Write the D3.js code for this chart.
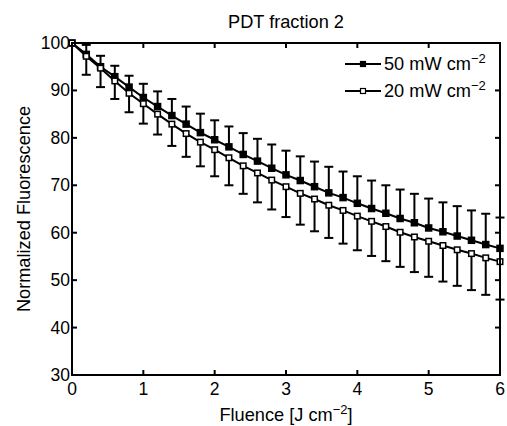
<!DOCTYPE html>
<html lang="en">
<head>
<meta charset="utf-8">
<title>PDT fraction 2</title>
<style>
  body { margin: 0; background: #fff; }
  svg text { font-family: "Liberation Sans", Arial, sans-serif; fill: #000; }
</style>
</head>
<body>
<svg id="chart" width="507" height="426"></svg>
<script src="https://d3js.org/d3.v7.min.js"></script>
<script>
// fluence points (J cm^-2)
const fluence = [0, 0.2, 0.4, 0.6, 0.8, 1.0, 1.2, 1.4, 1.6, 1.8, 2.0, 2.2, 2.4, 2.6, 2.8, 3.0,
                 3.2, 3.4, 3.6, 3.8, 4.0, 4.2, 4.4, 4.6, 4.8, 5.0, 5.2, 5.4, 5.6, 5.8, 6.0];
// 50 mW cm^-2 (filled squares)
const fl50 = [100, 97.6, 95.0, 92.9, 90.7, 88.5, 86.6, 84.7, 82.9, 81.1, 79.6, 78.1, 76.5, 75.1, 73.6, 72.2,
              71.0, 69.7, 68.4, 67.4, 66.2, 65.1, 64.1, 63.0, 62.1, 61.0, 60.2, 59.3, 58.4, 57.5, 56.7];
const err50 = [0, 2.0, 2.3, 2.3, 2.4, 2.9, 3.2, 3.5, 3.7, 4.0, 4.1, 4.3, 4.5, 4.7, 5.0, 5.1,
               5.1, 5.3, 5.5, 5.5, 5.7, 5.9, 5.9, 6.1, 6.1, 6.2, 6.2, 6.3, 6.3, 6.5, 6.5];
// 20 mW cm^-2 (open squares)
const fl20 = [100, 97.2, 94.7, 92.0, 89.4, 87.2, 85.0, 82.9, 80.9, 79.1, 77.5, 75.8, 74.1, 72.6, 71.1, 69.7,
              68.3, 67.1, 65.8, 64.7, 63.5, 62.4, 61.3, 60.1, 59.1, 58.2, 57.3, 56.4, 55.6, 54.7, 53.9];
const err20 = [0, 3.9, 4.0, 3.8, 4.0, 4.2, 4.3, 4.6, 4.9, 5.1, 5.6, 5.8, 5.9, 6.2, 6.2, 6.4,
               6.6, 6.8, 6.9, 7.0, 7.2, 7.3, 7.3, 7.3, 7.4, 7.5, 7.6, 7.6, 7.7, 7.8, 8.0];
const xTicks = [0, 1, 2, 3, 4, 5, 6];
const yTicks = [30, 40, 50, 60, 70, 80, 90, 100];

const svg = d3.select("#chart");
const plotL = 72, plotR = 500, plotT = 43, plotB = 375;
const fs = 18.2, tickFs = 17.5;

const x = d3.scaleLinear().domain([0, 6]).range([plotL, plotR]);
const y = d3.scaleLinear().domain([30, 100]).range([plotB, plotT]);

// error bars: upper for 50 mW, lower for 20 mW
const capW = 4.5;
function errBars(vals, errs, dir) {
  const g = svg.append("g").attr("stroke", "#000").attr("stroke-width", 2);
  fluence.forEach((f, i) => {
    if (errs[i] <= 0) return;
    const end = vals[i] + dir * errs[i];
    g.append("line").attr("x1", x(f)).attr("x2", x(f)).attr("y1", y(vals[i])).attr("y2", y(end));
    g.append("line").attr("x1", x(f) - capW).attr("x2", x(f) + capW).attr("y1", y(end)).attr("y2", y(end));
  });
}
errBars(fl50, err50, 1);
errBars(fl20, err20, -1);

const line = d3.line().x(d => x(d[0])).y(d => y(d[1]));
function series(vals, fill, ms) {
  const pts = fluence.map((f, i) => [f, vals[i]]);
  svg.append("path").datum(pts).attr("d", line)
    .attr("fill", "none").attr("stroke", "#000").attr("stroke-width", 2);
  svg.append("g").selectAll("rect").data(pts).join("rect")
    .attr("x", d => x(d[0]) - ms / 2).attr("y", d => y(d[1]) - ms / 2)
    .attr("width", ms).attr("height", ms)
    .attr("fill", fill).attr("stroke", "#000").attr("stroke-width", 1.5);
}
series(fl50, "#000", 6);
series(fl20, "#fff", 5.5);

// axes box with inward ticks
const ax = svg.append("g").attr("stroke", "#000").attr("stroke-width", 2);
ax.append("rect").attr("x", plotL).attr("y", plotT).attr("width", plotR - plotL).attr("height", plotB - plotT)
  .attr("fill", "none");
const tl = 5;
xTicks.forEach(t => {
  ax.append("line").attr("x1", x(t)).attr("x2", x(t)).attr("y1", plotB).attr("y2", plotB - tl);
  ax.append("line").attr("x1", x(t)).attr("x2", x(t)).attr("y1", plotT).attr("y2", plotT + tl);
});
yTicks.forEach(t => {
  ax.append("line").attr("x1", plotL).attr("x2", plotL + tl).attr("y1", y(t)).attr("y2", y(t));
  ax.append("line").attr("x1", plotR).attr("x2", plotR - tl).attr("y1", y(t)).attr("y2", y(t));
});

// tick labels
svg.append("g").selectAll("text").data(xTicks).join("text")
  .attr("x", d => x(d)).attr("y", plotB + 20).attr("text-anchor", "middle")
  .attr("font-size", tickFs).text(d => d);
svg.append("g").selectAll("text").data(yTicks).join("text")
  .attr("x", plotL - 2).attr("y", d => y(d) + 6).attr("text-anchor", "end")
  .attr("font-size", tickFs).text(d => d);

// title
svg.append("text").attr("x", (plotL + plotR) / 2).attr("y", 28).attr("text-anchor", "middle")
  .attr("font-size", fs).text("PDT fraction 2");

// x label
const xl = svg.append("text").attr("x", (plotL + plotR) / 2).attr("y", 421).attr("text-anchor", "middle")
  .attr("font-size", fs);
xl.append("tspan").text("Fluence [J cm");
xl.append("tspan").attr("dy", -7).attr("font-size", 13).text("\u22122");
xl.append("tspan").attr("dy", 7).text("]");

// y label
svg.append("text").attr("transform", `translate(30,${(plotT + plotB) / 2}) rotate(-90)`)
  .attr("text-anchor", "middle").attr("font-size", fs).text("Normalized Fluorescence");

// legend
const legend = [["50 mW cm", "#000"], ["20 mW cm", "#fff"]];
legend.forEach((l, i) => {
  const ly = 64 + i * 27;
  svg.append("line").attr("x1", 345).attr("x2", 381).attr("y1", ly).attr("y2", ly)
    .attr("stroke", "#000").attr("stroke-width", 2);
  svg.append("rect").attr("x", 363 - 2.5).attr("y", ly - 2.5).attr("width", 5).attr("height", 5)
    .attr("fill", l[1]).attr("stroke", "#000").attr("stroke-width", 1.2);
  const t = svg.append("text").attr("x", 384).attr("y", ly + 6).attr("font-size", fs);
  t.append("tspan").text(l[0]);
  t.append("tspan").attr("dy", -7).attr("font-size", 13).text("\u22122");
});
</script>
</body>
</html>
